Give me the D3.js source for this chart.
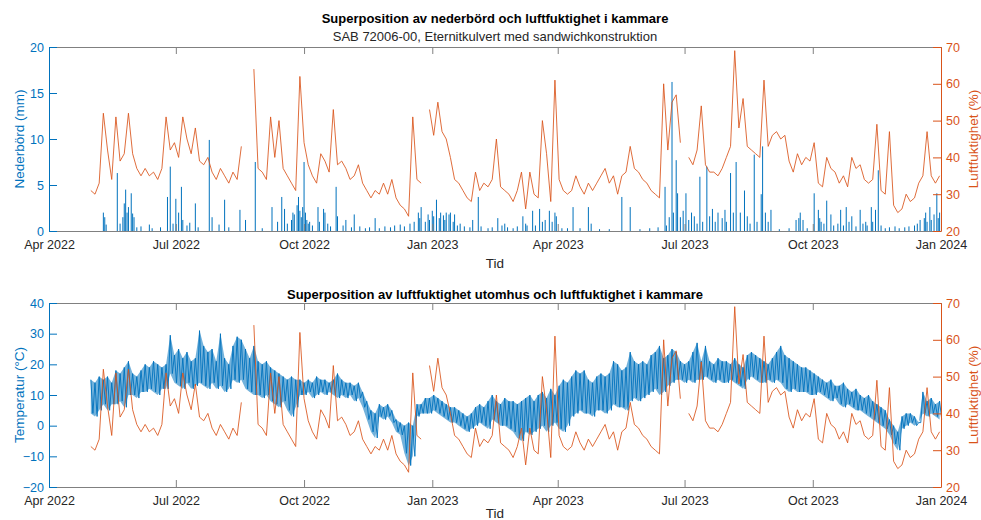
<!DOCTYPE html>
<html><head><meta charset="utf-8">
<script src="https://cdn.jsdelivr.net/npm/d3@7"></script>
<style>
body{margin:0;background:#fff}
svg{display:block}
text{font-family:"Liberation Sans",Arial,Helvetica,sans-serif}
</style>
</head><body><svg id="c" width="981" height="520"></svg>
<script>
// ---------- DATA ----------
const seriesStart = "2022-05-01";   // first sample of humidity / temperature
const stepDays = 3;                 // spacing between samples
// Relative humidity in chamber (%)
const humidity = [
31,30,33,52,42,34,51,39,41,52,
41,37,35,37,35,36,34,37,51,42,
44,40,51,45,41,48,39,38,40,36,
34,37,35,33,36,34,43,null,null,64,
37,36,34,51,40,50,37,35,33,31,
62,44,38,35,33,41,39,36,53,38,
39,37,34,35,38,33,31,29,31,30,
33,30,34,29,27,26,24,51,34,33,
null,53,46,55,47,45,40,34,33,31,
29,28,36,31,33,32,34,45,32,31,
30,28,31,36,26,36,30,29,50,41,
28,61,34,31,30,31,35,32,30,33,
31,33,35,37,33,35,30,35,36,43,
37,36,34,33,31,30,29,60,42,55,
57,44,null,40,38,42,54,38,36,36,
35,37,40,43,69,48,56,43,42,41,
40,61,43,46,47,45,46,39,36,41,
38,40,39,44,33,32,40,37,36,33,
35,32,40,37,38,34,33,34,49,31,
30,47,27,25,26,30,28,29,33,35,
47,35,33,35];
// Outdoor temperature (°C): upper and lower envelope of the daily swing
const tempHigh = [
15,14,16,15,16,14,18,17,19,21,
17,16,18,20,19,21,20,19,20,29.5,
23,25,22,24,21,22,31,26,24,25,
21,30,22,20,26,29,28,25,22,26,
21,20,21,19,18,17,16,15,16,15,
15,14,15,14,16,15,15,14,15,17,
15,14,14,13,14,11,8,5,4,7,
6,7,5,2,1,0,1,0,7,7,
9,9,10,9,8,7,6,6,5,4,
3,4,6,7,6,8,10,8,7,9,
8,8,7,8,9,10,8,10,11,9,
12,10,13,15,14,16,18,17,18,15,
14,16,17,16,17,21,20,18,19,24,
21,20,21,20,23,24,26,22,23,25,
24,21,20,21,24,27,21,26,21,20,
22,21,21,20,22,20,19,23,24,23,
22,21,20,22,24,26,23,22,21,20,
19,19,18,17,16,15,14,15,13,13,
14,12,11,12,10,9,10,8,7,6,
5,2,0,-2,3,4,4,3,1,11,
8,9,7,8];
const tempLow = [
4,3,5,7,5,7,7,8,6,10,
10,9,11,11,12,11,10,12,12,17,
14,13,12,14,12,13,14,13,12,14,
12,13,11,12,15,14,15,12,11,10,
10,9,10,8,7,6,8,5,3,6,
10,10,11,9,10,11,10,11,10,9,
10,9,10,8,9,6,2,-2,-4,3,
2,3,1,-2,-3,-9,-13,-10,3,4,
4,4,5,4,3,2,1,1,0,-1,
-2,-1,0,1,0,-1,2,1,0,0,
-1,-2,-4,-5,-2,-3,-2,-1,0,-2,
0,1,-1,-2,0,3,4,5,4,4,
3,5,5,4,5,7,6,6,5,8,
9,8,9,10,11,12,10,11,13,14,
15,15,14,15,14,15,15,16,15,14,
15,14,14,15,14,13,12,15,16,15,
14,14,15,14,15,14,12,11,12,11,
11,11,10,10,11,10,9,8,9,7,
6,7,6,5,5,4,3,2,1,0,
-1,-3,-6,-8,-1,0,1,0,1,4,
3,4,3,2];
// Precipitation events: day offset from 2022-04-01 and amount (mm)
const rainOrigin = "2022-04-01";
const rainDay = [39,40,41,49,51,53,54,55,56,57,59,60,61,63,66,72,74,80,85,87,89,91,93,95,96,99,101,105,107,115,117,122,126,129,137,141,148,153,160,164,167,169,171,174,175,176,178,179,180,181,182,183,184,185,186,187,189,193,194,197,198,200,202,206,207,211,213,217,219,223,227,230,234,237,241,245,248,252,255,259,262,265,266,267,270,272,273,275,276,278,280,281,283,284,285,287,288,290,291,293,295,298,302,304,308,310,315,318,322,325,327,329,333,336,340,342,343,347,349,352,354,356,359,361,363,364,368,372,376,381,387,389,395,402,411,417,424,431,437,442,443,445,447,448,450,451,453,455,457,459,461,463,465,467,469,472,474,476,478,480,483,485,486,489,491,493,496,499,501,503,506,508,511,512,514,516,518,524,531,536,538,539,541,544,549,552,553,554,556,558,561,563,566,568,570,572,574,576,579,582,584,586,587,590,591,593,595,597,600,603,607,610,614,617,621,623,625,628,629,630,632,633,635,637,638,639];
const rainMm = [2.0,1.5,0.7,6.3,0.8,1.5,3.0,4.5,2.0,2.6,4.1,1.9,1.5,0.4,0.5,0.7,0.3,0.4,3.7,7.0,0.8,3.5,2.0,4.8,1.2,0.6,0.9,3.0,0.4,9.9,1.5,0.7,3.4,0.4,2.3,1.2,7.5,0.3,2.6,1.0,3.7,2.4,0.8,1.2,2.0,1.8,2.8,3.7,2.2,1.5,2.6,7.5,2.0,1.2,0.8,1.0,0.6,2.6,1.0,2.4,2.0,0.8,0.5,4.8,1.6,0.6,1.2,0.4,1.8,0.5,0.3,0.4,1.4,0.3,0.5,0.4,0.6,0.7,0.5,0.8,1.0,2.0,1.4,2.6,1.0,1.8,1.2,2.2,1.6,3.4,1.4,2.0,1.7,1.2,2.0,1.8,2.0,1.0,1.8,0.6,0.8,0.5,0.4,1.2,3.7,0.5,0.3,0.4,1.4,0.6,0.8,0.4,0.3,0.5,1.6,0.8,0.6,2.2,0.6,2.4,1.0,1.2,2.2,1.0,2.0,1.6,0.3,0.3,2.6,0.3,2.6,0.8,0.2,0.2,3.7,2.6,0.2,0.3,0.4,4.8,0.6,1.5,16.2,2.0,7.7,4.1,1.5,2.2,4.1,1.2,2.0,1.6,0.8,5.9,1.0,7.0,1.6,2.4,1.0,2.0,1.4,2.3,1.0,6.3,2.0,7.5,2.0,4.4,1.6,0.8,8.3,1.0,4.0,9.2,2.0,1.0,2.3,0.2,0.3,1.2,1.4,2.0,1.2,0.3,4.1,2.3,1.4,1.0,0.8,3.3,1.8,0.6,0.8,2.3,0.6,2.6,1.0,1.6,0.5,2.3,0.8,1.0,0.6,2.6,1.0,2.3,6.6,0.6,0.3,0.4,0.5,0.3,0.4,0.5,0.6,0.8,1.2,1.4,2.0,1.0,2.6,1.2,1.8,4.1,1.4,2.0];
// Axis settings
const xDomain = ["2022-04-01","2024-01-01"];
const xTickDates = ["2022-04-01","2022-07-01","2022-10-01","2023-01-01","2023-04-01","2023-07-01","2023-10-01","2024-01-01"];
const rainTicks = [0,5,10,15,20];
const humTicks = [20,30,40,50,60,70];
const tempTicks = [-20,-10,0,10,20,30,40];

// ---------- DRAW ----------
const parse = d3.timeParse("%Y-%m-%d");
const BLUE = "#0072BD", ORANGE = "#D95319", AX = "#262626";
const svg = d3.select("#c");
const L = 49, R = 941;
const x = d3.scaleTime().domain(xDomain.map(parse)).range([L, R]);
const t0 = parse(seriesStart);
const sampleDate = i => d3.timeHour.offset(t0, i * stepDays * 24);
const fmt = d3.timeFormat("%b %Y");

function panel(top, bottom, leftScaleDomain, leftTicks, leftLabel, title, subtitle, tidY) {
  const yL = d3.scaleLinear().domain(leftScaleDomain).range([bottom, top]);
  const yR = d3.scaleLinear().domain([20, 70]).range([bottom, top]);
  const g = svg.append("g");
  return {g, yL, yR, top, bottom, leftTicks, leftLabel, title, subtitle, tidY};
}

function axes(p) {
  const {g, yL, yR, top, bottom} = p;
  const xa = g.append("g").attr("transform", `translate(0,${bottom})`)
    .call(d3.axisBottom(x).tickValues(xTickDates.map(parse)).tickFormat(fmt).tickSizeInner(-7).tickSizeOuter(0).tickPadding(9));
  xa.select(".domain").attr("stroke", "#808080");
  xa.selectAll(".tick line").attr("stroke", "#808080");
  xa.selectAll("text").attr("fill", AX).style("font-size", "12.5px");
  const xt = g.append("g").attr("transform", `translate(0,${top})`)
    .call(d3.axisTop(x).tickValues(xTickDates.map(parse)).tickFormat("").tickSizeInner(-7).tickSizeOuter(0));
  xt.select(".domain").attr("stroke", "#808080");
  xt.selectAll(".tick line").attr("stroke", "#808080");
  const la = g.append("g").attr("transform", `translate(${L},0)`)
    .call(d3.axisLeft(yL).tickValues(p.leftTicks).tickSizeInner(-8).tickSizeOuter(0).tickPadding(5));
  la.select(".domain").attr("stroke", BLUE);
  la.selectAll(".tick line").attr("stroke", BLUE);
  la.selectAll("text").attr("fill", BLUE).style("font-size", "12.5px");
  const ra = g.append("g").attr("transform", `translate(${R},0)`)
    .call(d3.axisRight(yR).tickValues(humTicks).tickSizeInner(-8).tickSizeOuter(0).tickPadding(5));
  ra.select(".domain").attr("stroke", ORANGE);
  ra.selectAll(".tick line").attr("stroke", ORANGE);
  ra.selectAll("text").attr("fill", ORANGE).style("font-size", "12.5px");
  const mid = (top + bottom) / 2;
  g.append("text").attr("transform", `translate(19,${mid}) rotate(-90)`)
    .attr("text-anchor", "middle").attr("dominant-baseline", "central")
    .attr("fill", BLUE).style("font-size", "13.5px").text(p.leftLabel);
  g.append("text").attr("transform", `translate(973,${mid}) rotate(-90)`)
    .attr("text-anchor", "middle").attr("dominant-baseline", "central")
    .attr("fill", ORANGE).style("font-size", "13.5px").text("Luftfuktighet (%)");
  g.append("text").attr("x", (L + R) / 2).attr("y", p.tidY)
    .attr("text-anchor", "middle").attr("fill", AX).style("font-size", "13.5px").text("Tid");
  if (p.subtitle) {
    g.append("text").attr("x", (L + R) / 2).attr("y", top - 24)
      .attr("text-anchor", "middle").attr("fill", "#000").style("font-size", "13px").style("font-weight", "bold").text(p.title);
    g.append("text").attr("x", (L + R) / 2).attr("y", top - 6)
      .attr("text-anchor", "middle").attr("fill", AX).style("font-size", "13px").text(p.subtitle);
  } else {
    g.append("text").attr("x", (L + R) / 2).attr("y", top - 4)
      .attr("text-anchor", "middle").attr("fill", "#000").style("font-size", "13px").style("font-weight", "bold").text(p.title);
  }
}

function humLine(p) {
  const line = d3.line().defined(d => d.v != null)
    .x(d => x(d.t)).y(d => p.yR(d.v));
  const data = humidity.map((v, i) => ({t: sampleDate(i), v}));
  p.g.append("path").datum(data).attr("d", line)
    .attr("fill", "none").attr("stroke", ORANGE).attr("stroke-width", 0.85).attr("stroke-linejoin", "round");
}

// Top panel
const p1 = panel(47, 231, [0, 20], rainTicks, "Nederbörd (mm)",
  "Superposition av nederbörd och luftfuktighet i kammare",
  "SAB 72006-00, Eternitkulvert med sandwichkonstruktion", 268);
const rOrigin = parse(rainOrigin);
p1.g.append("g").selectAll("rect").data(rainDay.map((d, i) => ({t: d3.timeDay.offset(rOrigin, d), v: rainMm[i]})))
  .join("rect")
  .attr("x", d => x(d.t) - 0.5).attr("width", 1)
  .attr("y", d => p1.yL(d.v)).attr("height", d => p1.yL(0) - p1.yL(d.v))
  .attr("fill", BLUE);
humLine(p1);
axes(p1);

// Bottom panel
const p2 = panel(303, 487, [-20, 40], tempTicks, "Temperatur (°C)",
  "Superposition av luftfuktighet utomhus och luftfuktighet i kammare", null, 518);
const tempPts = [];
tempHigh.forEach((h, i) => {
  tempPts.push({t: sampleDate(i), v: h});
  tempPts.push({t: d3.timeHour.offset(sampleDate(i), stepDays * 12), v: tempLow[i]});
});
const band = tempHigh.map((h, i) => ({t: sampleDate(i), hi: h, lo: tempLow[i]}));
p2.g.append("path").datum(band)
  .attr("d", d3.area().x(d => x(d.t)).y0(d => p2.yL(d.lo)).y1(d => p2.yL(d.hi)))
  .attr("fill", BLUE).attr("fill-opacity", 0.55);
p2.g.append("path").datum(tempPts)
  .attr("d", d3.line().x(d => x(d.t)).y(d => p2.yL(d.v)))
  .attr("fill", "none").attr("stroke", BLUE).attr("stroke-width", 0.9);
humLine(p2);
axes(p2);
</script>
</body></html>
